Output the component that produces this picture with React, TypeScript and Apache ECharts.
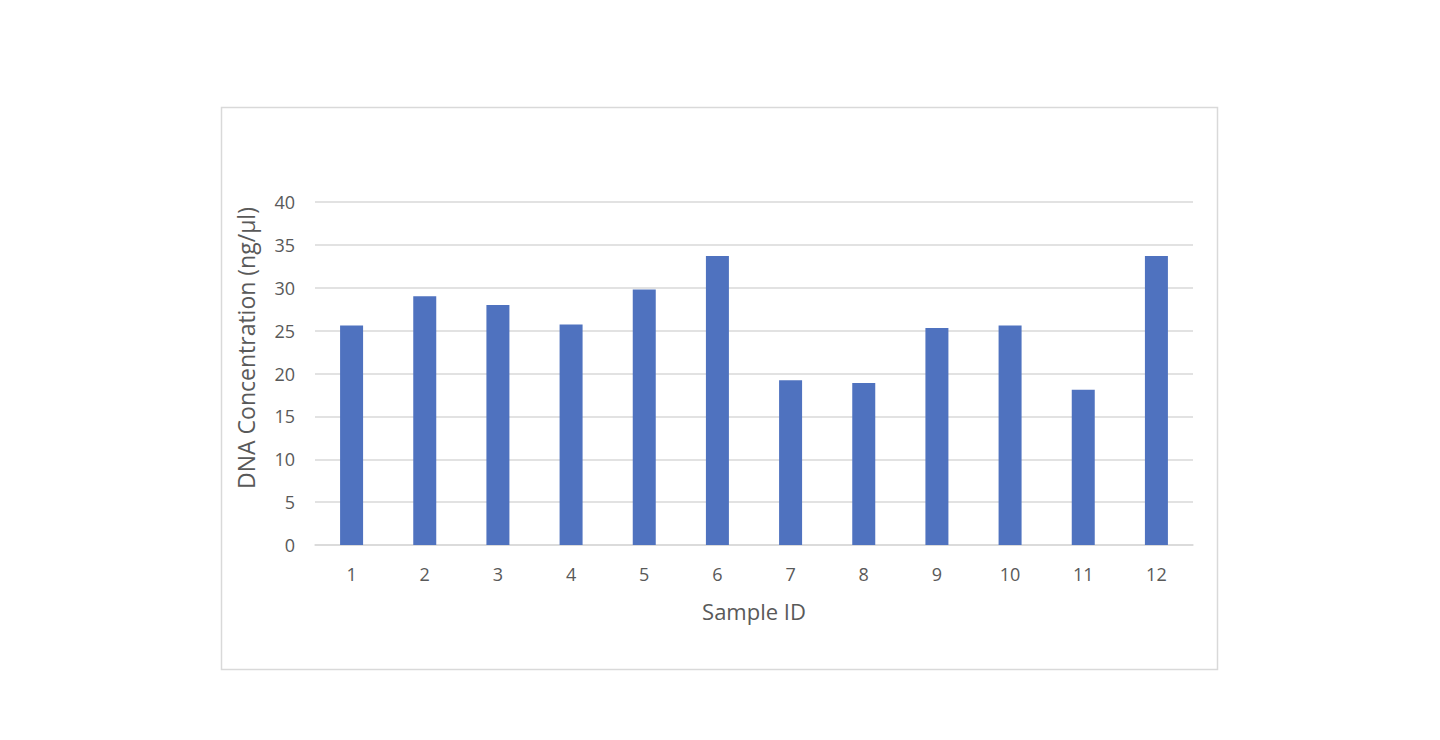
import React, { useEffect, useRef } from "react";
import * as echarts from "echarts";

const categories = ["1", "2", "3", "4", "5", "6", "7", "8", "9", "10", "11", "12"];
const concentrations = [25.6, 29.0, 28.0, 25.7, 29.8, 33.7, 19.2, 18.9, 25.3, 25.6, 18.1, 33.7];
const yTitle = "DNA Concentration (ng/µl)";
const xTitle = "Sample ID";

export default function App() {
  const ref = useRef<HTMLDivElement>(null);
  useEffect(() => {
    if (!ref.current) return;
    const chart = echarts.init(ref.current, undefined, { renderer: "svg" });
    const font = "'Open Sans', 'Noto Sans', sans-serif";
    chart.setOption({
      animation: false,
      backgroundColor: "#ffffff",
      graphic: [
        {
          type: "rect",
          shape: { x: 221.5, y: 107.5, width: 996, height: 562 },
          style: { fill: "none", stroke: "#d9d9d9", lineWidth: 1.5 },
          silent: true,
        },
        {
          type: "text",
          x: 246,
          y: 348,
          rotation: Math.PI / 2,
          silent: true,
          style: {
            text: yTitle,
            fill: "#595959",
            fontSize: 23,
            fontFamily: font,
            textAlign: "center",
            textVerticalAlign: "middle",
          },
        },
      ],
      grid: { left: 315, right: 247, top: 202, bottom: 195 },
      xAxis: {
        type: "category",
        data: categories,
        name: xTitle,
        nameLocation: "middle",
        nameGap: 55,
        nameTextStyle: { color: "#595959", fontSize: 22, fontFamily: font },
        axisLine: { show: true, lineStyle: { color: "#d9d9d9", width: 1.5 } },
        axisTick: { show: false },
        axisLabel: { color: "#595959", fontSize: 18, fontFamily: font, margin: 20 },
      },
      yAxis: {
        type: "value",
        min: 0,
        max: 40,
        interval: 5,
        axisLine: { show: false },
        axisTick: { show: false },
        splitLine: { lineStyle: { color: "#d9d9d9", width: 1.5 } },
        axisLabel: { color: "#595959", fontSize: 18, fontFamily: font, margin: 20 },
      },
      series: [
        {
          type: "bar",
          data: concentrations,
          barWidth: 23,
          itemStyle: { color: "#4f72bf" },
        },
      ],
    });
    return () => chart.dispose();
  }, []);
  return (
    <div
      ref={ref}
      style={{ position: "fixed", left: 0, top: 0, width: 1440, height: 740 }}
    />
  );
}
